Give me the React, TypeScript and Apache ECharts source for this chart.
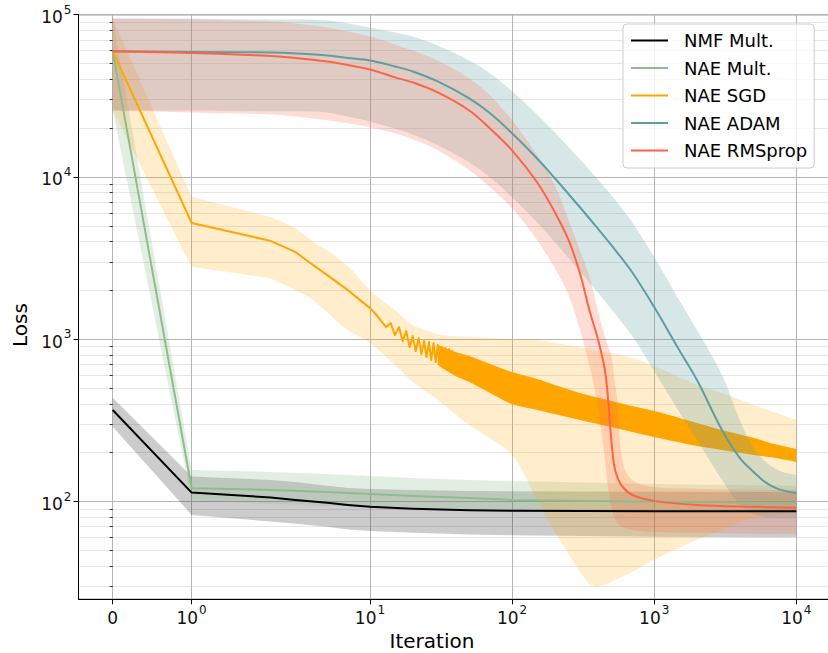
import React, { useEffect, useRef } from 'react';
import * as echarts from 'echarts';

const FONT = 'DejaVu Sans';

// symlog x transform (linthresh = 2, linscale = 1, base 10)
const LIN = 1 / (1 - 1 / 10);
const tx = (it: number) => (it <= 2 ? it * LIN : 2 * (LIN + Math.log10(it / 2)));

const X_TICKS = [0, 1, 10, 100, 1000, 10000];
const Y_MIN = 25;
const Y_MAX = 100000;
const Y_MAJOR = [100, 1000, 10000, 100000];
const Y_MINOR = [
  30, 40, 50, 60, 70, 80, 90,
  200, 300, 400, 500, 600, 700, 800, 900,
  2000, 3000, 4000, 5000, 6000, 7000, 8000, 9000,
  20000, 30000, 40000, 50000, 60000, 70000, 80000, 90000,
];

const NAMES = ['NMF Mult.', 'NAE Mult.', 'NAE SGD', 'NAE ADAM', 'NAE RMSprop'];
const COLORS = ['#000000', '#8fbc8f', '#ffa500', '#5f9ea0', '#ff6347'];
const BAND_FILLS = [
  'rgba(0,0,0,0.2)',
  'rgba(143,188,143,0.25)',
  'rgba(255,165,0,0.2)',
  'rgba(95,158,160,0.25)',
  'rgba(255,99,71,0.22)',
];

// NMF Mult.
const nmfIter = [0, 1, 2, 3, 5, 7, 10, 20, 50, 100, 1000, 10000];
const nmfMean = [366.8, 113.6, 106.1, 102.4, 98.2, 95.4, 92.8, 90.2, 88.3, 87.7, 87.3, 87.1];
const nmfUpper = [436.5, 142.5, 136, 132.2, 125, 121.4, 119.7, 118, 116.4, 115.6, 115, 114.7];
const nmfLower = [289.5, 82.8, 75.3, 72.9, 69.9, 67.4, 66, 64.2, 62.8, 62, 60.7, 60.2];

// NAE Mult.
const multIter = [0, 1, 2, 5, 10, 20, 50, 100, 1000, 10000];
const multMean = [59600, 120.9, 118, 114.7, 111.5, 108.4, 105.4, 102.4, 99.6, 98.2];
const multUpper = [94800, 156.7, 152.3, 148, 143.9, 139.9, 136, 134, 128.5, 125];
const multLower = [25700, 102.4, 96.8, 94.1, 92.8, 91.5, 90.2, 88.9, 87.7, 86.4];

// NAE SGD mean (oscillating after ~12 iterations)
const sgdIter = [
  0, 1, 2, 3, 4, 5, 7, 10, 11,
  12, 13, 14, 15, 16, 17, 18, 19, 20, 21, 22, 23, 24, 25, 26, 27, 28, 29, 30,
  31, 32, 33, 34, 35, 36, 37, 38, 39, 40,
];
const sgdMean = [
  59600, 5210, 4040, 3440, 2860, 2484, 2008, 1556, 1429,
  1294, 1189, 1258, 1061, 1189, 975, 1123, 895, 1046, 846, 1017, 811, 975, 777, 961, 745, 948, 724, 921,
  694, 895, 665, 883, 647, 870, 628, 846, 611, 834,
];
// envelope of the fast oscillation of the SGD mean
const sgdOscIter = [30, 40, 50, 70, 100, 150, 200, 300, 500, 700, 1000, 2000, 3000, 5000, 7000, 10000];
const sgdOscHigh = [921, 834, 788, 704, 628, 569, 523, 467, 417, 388, 361, 305, 276, 247, 226, 211];
const sgdOscLow = [694, 594, 545, 467, 399, 367, 346, 318, 288, 268, 250, 220, 208, 194, 186, 175.5];
// SGD spread band
const sgdBandIter = [0, 1, 2, 3, 4, 5, 7, 10, 15, 20, 30, 50, 100, 150, 200, 300, 350, 400, 500, 700, 1000, 2000, 3000, 5000, 10000];
const sgdUpper = [94800, 7530, 5675, 4830, 3965, 3538, 2821, 2008, 1510, 1223, 1076, 1032, 1003, 989, 948, 895, 870, 846, 823, 766, 684, 523, 467, 394, 318];
const sgdLower = [25700, 2794, 2370, 2008, 1743, 1470, 1139, 948, 694, 545, 423, 296, 194, 102.4, 65.1, 36.9, 31.2, 29.9, 32.1, 36.9, 43.8, 58.1, 66.9, 79.4, 85.2];

// NAE ADAM
const adamIter = [0, 1, 2, 3, 5, 7, 10, 15, 20, 30, 50, 70, 100, 150, 200, 300, 400, 500, 700, 1000, 1500, 2000, 3000, 4000, 5000, 6000, 7000, 8000, 10000];
const adamMean = [59600, 58950, 58500, 57700, 56100, 54150, 52250, 48000, 44700, 38800, 30500, 24700, 18600, 13000, 9820, 6510, 4830, 3800, 2590, 1580, 858, 561, 276, 185.8, 152.3, 132.2, 122.3, 117.2, 113];
const adamUpper = [94800, 94800, 93400, 93400, 92100, 88300, 83400, 77700, 73400, 64600, 52250, 43500, 33700, 24300, 18800, 12850, 9680, 7720, 5260, 3210, 1740, 1140, 602, 318, 214, 178, 161, 152.3, 146];
const adamLower = [25700, 25700, 25400, 25400, 25000, 23600, 22000, 19900, 18300, 15700, 12300, 9960, 7500, 5260, 3960, 2630, 1950, 1530, 1046, 637, 356, 240, 136, 95.4, 84, 80.5, 79.4, 79.4, 79.4];

// NAE RMSprop
const rmsIter = [0, 1, 2, 3, 5, 7, 10, 15, 20, 30, 50, 70, 100, 150, 200, 250, 300, 350, 400, 450, 475, 500, 525, 550, 600, 700, 1000, 2000, 5000, 10000];
const rmsMean = [59600, 58100, 55700, 54150, 51500, 49000, 46000, 41100, 38260, 33200, 25700, 19900, 14600, 9280, 6070, 4080, 2560, 1510, 1017, 647, 417, 236, 163.5, 142, 123, 110, 101, 95.4, 92.8, 91.5];
const rmsUpper = [94800, 93400, 90800, 88300, 83400, 78800, 73400, 65550, 60200, 52250, 40500, 31800, 22330, 13600, 8890, 5415, 3538, 2448, 1530, 1046, 895, 788, 561, 423, 175.5, 136, 123, 120, 118, 118];
const rmsLower = [25700, 25000, 24300, 23600, 22330, 21400, 20220, 18600, 17060, 14600, 11000, 8640, 6420, 4080, 2743, 1871, 1139, 694, 394, 180.6, 118, 91.5, 79.4, 73.9, 69.9, 66.9, 65.1, 64.2, 63.3, 63.3];

const toPts = (iters: number[], vals: number[]) => iters.map((it, i) => [tx(it), Math.log10(vals[i])]);

// duplicate the given vertices so that the smoothed outline keeps a sharp corner there
function withCorners(pts: number[][], iters: number[], sharp: number[]) {
  const out: number[][] = [];
  pts.forEach((p, i) => {
    out.push(p);
    if (i === 0 || i === pts.length - 1 || sharp.indexOf(iters[i]) >= 0) out.push(p.slice());
  });
  return out;
}

function bandSeries(iters: number[], upper: number[], lower: number[], fill: string, smooth = 0, sharp: number[] = []) {
  const up = withCorners(toPts(iters, upper), iters, sharp);
  const lo = withCorners(toPts(iters, lower), iters, sharp).reverse();
  const poly = up.concat(lo);
  return {
    type: 'custom',
    silent: true,
    data: [poly[0]],
    renderItem: (_p: any, api: any) => ({
      type: 'polygon',
      shape: { points: poly.map((p) => api.coord(p)), smooth },
      style: { fill, stroke: null, lineWidth: 0 },
    }),
  };
}

function lineSeries(name: string, iters: number[], vals: number[], color: string, smooth: number | boolean = false) {
  return {
    type: 'line',
    name,
    data: toPts(iters, vals),
    symbol: 'none',
    showSymbol: false,
    silent: true,
    smooth,
    lineStyle: { color, width: 2, join: 'round' },
    itemStyle: { color },
  };
}

const rich = {
  b: { fontSize: 17, fontFamily: FONT, color: '#111', lineHeight: 22, verticalAlign: 'bottom' },
  s: { fontSize: 12, fontFamily: FONT, color: '#111', lineHeight: 12, verticalAlign: 'top', padding: [0, 0, 0, 1] },
};

const xFormatter = (v: number) => {
  let idx = -1;
  X_TICKS.forEach((t, i) => {
    if (Math.abs(tx(t) - v) < 1e-6) idx = i;
  });
  if (idx < 0) return '';
  const it = X_TICKS[idx];
  if (it === 0) return '{b|0}';
  return `{b|10}{s|${Math.round(Math.log10(it))}}`;
};

const yFormatter = (v: number) => {
  const e = Math.round(v);
  if (Math.abs(v - e) > 1e-6) return '';
  return `{b|10}{s|${e}}`;
};

const option: any = {
  animation: false,
  backgroundColor: '#ffffff',
  textStyle: { fontFamily: FONT },
  grid: {
    left: 78.5,
    top: 14.7,
    width: 752,
    height: 584.6,
    show: true,
    borderColor: '#000',
    borderWidth: 1,
    backgroundColor: 'transparent',
    containLabel: false,
    outerBoundsMode: 'none',
  },
  xAxis: {
    type: 'value',
    min: tx(0) - 0.481,
    max: tx(10000) + 0.481,
    name: 'Iteration',
    nameLocation: 'middle',
    nameGap: 22,
    nameTextStyle: { fontSize: 20, fontFamily: FONT, color: '#000', padding: [0, 45, 0, 0] },
    axisLine: { show: true, onZero: false, lineStyle: { color: '#000', width: 1 } },
    axisTick: { show: true, customValues: X_TICKS.map(tx), length: 5, lineStyle: { color: '#000', width: 1 } },
    axisLabel: { show: true, customValues: X_TICKS.map(tx), formatter: xFormatter, rich, margin: 5 },
    splitLine: { show: true, lineStyle: { color: '#b5b5b5', width: 1 } },
  },
  yAxis: [
    {
      type: 'value',
      min: Math.log10(Y_MIN),
      max: Math.log10(Y_MAX),
      position: 'left',
      name: 'Loss',
      nameLocation: 'middle',
      nameRotate: 90,
      nameGap: 48,
      nameTextStyle: { fontSize: 20, fontFamily: FONT, color: '#000', padding: [0, 36, 0, 0] },
      axisLine: { show: true, onZero: false, lineStyle: { color: '#000', width: 1 } },
      axisTick: { show: true, customValues: Y_MAJOR.map(Math.log10), length: 5, lineStyle: { color: '#000', width: 1 } },
      axisLabel: { show: true, customValues: Y_MAJOR.map(Math.log10), formatter: yFormatter, rich, margin: 7 },
      splitLine: { show: true, lineStyle: { color: '#b5b5b5', width: 1 } },
    },
    {
      type: 'value',
      min: Math.log10(Y_MIN),
      max: Math.log10(Y_MAX),
      position: 'left',
      axisLine: { show: false },
      axisTick: { show: true, customValues: Y_MINOR.map(Math.log10), length: 3, lineStyle: { color: '#000', width: 0.8 } },
      axisLabel: { show: false },
      splitLine: { show: true, lineStyle: { color: '#e6e6e6', width: 1 } },
    },
  ],
  legend: {
    data: NAMES,
    orient: 'vertical',
    left: 623,
    top: 24,
    padding: [6.5, 7, 7.5, 8],
    itemGap: 7.5,
    itemWidth: 37,
    itemHeight: 2,
    icon: 'rect',
    selectedMode: false,
    backgroundColor: 'rgba(255,255,255,0.8)',
    borderColor: '#cccccc',
    borderWidth: 1,
    borderRadius: 4,
    textStyle: { fontSize: 18, fontFamily: FONT, color: '#000', lineHeight: 20, padding: [0, 0, 0, 11] },
  },
  series: [
    bandSeries(nmfIter, nmfUpper, nmfLower, BAND_FILLS[0]),
    lineSeries(NAMES[0], nmfIter, nmfMean, COLORS[0]),
    bandSeries(multIter, multUpper, multLower, BAND_FILLS[1]),
    lineSeries(NAMES[1], multIter, multMean, COLORS[1]),
    bandSeries(sgdBandIter, sgdUpper, sgdLower, BAND_FILLS[2], 0.3, [1, 2]),
    bandSeries(sgdOscIter, sgdOscHigh, sgdOscLow, COLORS[2], 0.3, []),
    lineSeries(NAMES[2], sgdIter, sgdMean, COLORS[2]),
    bandSeries(adamIter, adamUpper, adamLower, BAND_FILLS[3], 0.35, []),
    lineSeries(NAMES[3], adamIter, adamMean, COLORS[3], 0.35),
    bandSeries(rmsIter, rmsUpper, rmsLower, BAND_FILLS[4], 0.35, []),
    lineSeries(NAMES[4], rmsIter, rmsMean, COLORS[4], 0.35),
  ],
};

export default function App() {
  const ref = useRef<HTMLDivElement>(null);
  useEffect(() => {
    const chart = echarts.init(ref.current as HTMLDivElement, null, { renderer: 'svg' });
    chart.setOption(option);
    return () => chart.dispose();
  }, []);
  return (
    <div
      ref={ref}
      style={{ position: 'fixed', left: 0, top: 0, width: 828, height: 653, background: '#fff' }}
    />
  );
}
